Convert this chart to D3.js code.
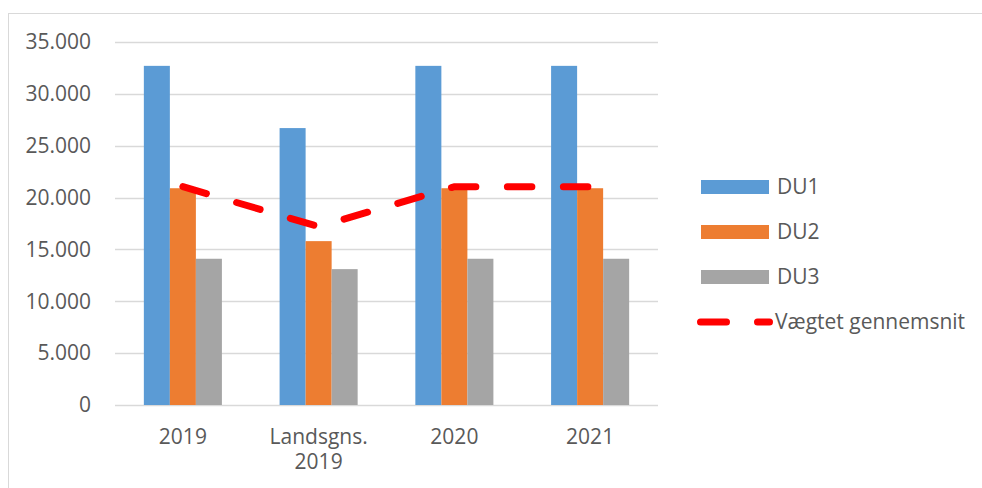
<!DOCTYPE html>
<html>
<head>
<meta charset="utf-8">
<script src="https://cdn.jsdelivr.net/npm/d3@7"></script>
<style>
  body{margin:0;background:#fff;}
  text{font-family:"Open Sans",sans-serif;fill:#595959;}
</style>
</head>
<body>
<svg id="chart" width="982" height="488"></svg>
<script>
// data
var categories=["2019","Landsgns.\n2019","2020","2021"];
var seriesNames=["DU1","DU2","DU3"];
var du1=[32700,26700,32700,32700];
var du2=[20900,15800,20900,20900];
var du3=[14100,13100,14100,14100];
var average=[21050,17200,21050,21050]; // Vægtet gennemsnit
var lineName="Vægtet gennemsnit";
var yTicks=[0,5000,10000,15000,20000,25000,30000,35000];
var colors=["#5b9bd5","#ed7d31","#a5a5a5"];

var svg=d3.select("#chart");
var plotLeft=115,plotRight=658,plotTop=42,plotBottom=405;

// outer frame (runs off the right and bottom)
svg.append("rect").attr("x",8.5).attr("y",13.5).attr("width",1000).attr("height",500)
  .attr("fill","none").attr("stroke","#d9d9d9").attr("stroke-width",1);

var x=d3.scaleBand().domain(categories).range([plotLeft,plotRight]).paddingInner(0.425).paddingOuter(0.2125);
var xs=d3.scaleBand().domain(seriesNames).range([0,x.bandwidth()]);
var y=d3.scaleLinear().domain([0,35000]).range([plotBottom,plotTop]);

var fmt=function(v){return d3.format(",")(v).replace(/,/g,".");};

// grid
svg.append("g").selectAll("line").data(yTicks).enter().append("line")
  .attr("x1",plotLeft).attr("x2",plotRight)
  .attr("y1",function(d){return Math.round(y(d))+0.5;})
  .attr("y2",function(d){return Math.round(y(d))+0.5;})
  .attr("stroke","#d9d9d9").attr("stroke-width",1.5);

// y labels
svg.append("g").selectAll("text").data(yTicks).enter().append("text")
  .attr("x",91).attr("y",function(d){return y(d);}).attr("dy","0.35em")
  .attr("text-anchor","end").style("font-size","21px").text(fmt);

// bars
var seriesData=[du1,du2,du3];
seriesData.forEach(function(vals,si){
  svg.append("g").selectAll("rect").data(vals).enter().append("rect")
    .attr("x",function(d,i){return x(categories[i])+xs(seriesNames[si]);})
    .attr("width",xs.bandwidth())
    .attr("y",function(d){return y(d);})
    .attr("height",function(d){return y(0)-y(d);})
    .attr("fill",colors[si]);
});

// weighted average line
var line=d3.line()
  .x(function(d,i){return x(categories[i])+x.bandwidth()/2;})
  .y(function(d){return y(d);});
svg.append("path").datum(average).attr("d",line)
  .attr("fill","none").attr("stroke","#ff0000").attr("stroke-width",7)
  .attr("stroke-linecap","round").attr("stroke-dasharray","24.5,31.5");

// x labels, one text per line
categories.forEach(function(c){
  var parts=c.split("\n");
  parts.forEach(function(p,k){
    svg.append("text").attr("x",x(c)+x.bandwidth()/2).attr("y",444+k*25)
      .attr("text-anchor","middle").style("font-size","21px").text(p);
  });
});

// legend
var legendY=[187,232,277];
seriesNames.forEach(function(n,i){
  svg.append("rect").attr("x",701).attr("y",legendY[i]-7).attr("width",68).attr("height",14).attr("fill",colors[i]);
  svg.append("text").attr("x",777).attr("y",legendY[i]).attr("dy","0.35em").style("font-size","21px").text(n);
});
svg.append("line").attr("x1",700.5).attr("x2",769.5).attr("y1",322).attr("y2",322)
  .attr("stroke","#ff0000").attr("stroke-width",7).attr("stroke-linecap","round")
  .attr("stroke-dasharray","26,31");
svg.append("text").attr("x",775).attr("y",322).attr("dy","0.35em").style("font-size","21px").text(lineName);
</script>
</body>
</html>
